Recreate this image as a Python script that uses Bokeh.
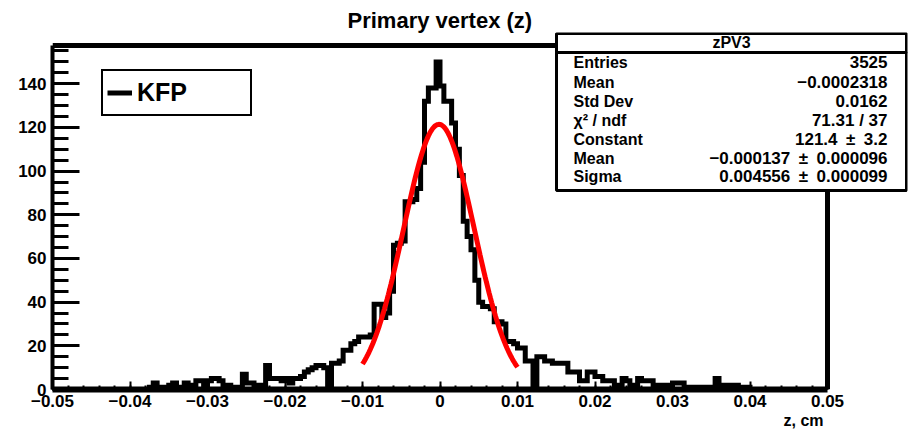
import numpy as np
from bokeh.plotting import figure
from bokeh.models import (Label, BoxAnnotation, Legend, LegendItem, FixedTicker,
                          CustomJSTickFormatter, Range1d, Title)
from bokeh.embed import file_html
from bokeh.resources import INLINE

# ---------------- data ----------------
TITLE = "Primary vertex (z)"
X_TITLE = "z, cm"
HIST_NAME = "zPV3"
LEGEND_LABEL = "KFP"
X_MIN, X_MAX, N_BINS = -0.05, 0.05, 200
Y_MAX = 157.5

counts = [
    0, 0, 0, 0, 0, 0, 0, 0, 0, 0, 0, 0, 0, 0, 0, 0, 0, 0, 0, 0,
    0, 0, 0, 0, 0, 1, 3, 1, 1, 1, 2, 3, 1, 1, 3, 2, 2, 4, 4, 1,
    4, 5, 5, 4, 2, 2, 1, 1, 1, 7, 3, 3, 1, 2, 1, 11, 5, 5, 5, 4,
    5, 3, 5, 5, 6, 8, 9, 10, 11, 11, 10, 0, 12, 12, 13, 18, 18, 21, 22, 24,
    24, 24, 25, 39, 39, 33, 35, 45, 66, 67, 68, 86, 86, 87, 92, 104, 132, 138, 138, 150,
    139, 132, 132, 122, 110, 98, 77, 70, 64, 50, 40, 38, 38, 37, 31, 31, 30, 22, 22, 21,
    19, 19, 13, 13, 2, 15, 15, 13, 13, 12, 12, 12, 12, 8, 8, 8, 4, 4, 8, 8,
    6, 6, 4, 4, 4, 2, 2, 5, 4, 2, 2, 5, 4, 4, 4, 2, 2, 1, 2, 1,
    3, 3, 3, 1, 1, 0, 1, 1, 1, 0, 1, 5, 2, 2, 2, 1, 2, 1, 1, 1,
    0, 0, 0, 0, 0, 0, 0, 0, 0, 0, 0, 0, 0, 0, 0, 0, 0, 0, 0, 0,
]

FIT_CONST, FIT_MEAN, FIT_SIGMA = 121.4, -0.000137, 0.004556
FIT_LO, FIT_HI = -0.01, 0.01

PM = "\u2002\u00b1\u2002"
stat_labels = ["Entries", "Mean", "Std Dev", "\u03c7\u00b2 / ndf", "Constant", "Mean", "Sigma"]
stat_values = ["3525", "\u22120.0002318", "0.0162", "71.31 / 37", "121.4" + PM + "3.2",
               "\u22120.000137" + PM + "0.000096", "0.004556" + PM + "0.000099"]

x_ticks = [-0.05, -0.04, -0.03, -0.02, -0.01, 0.0, 0.01, 0.02, 0.03, 0.04, 0.05]
x_minor = [round(-0.05 + 0.002 * k, 3) for k in range(51)]
y_ticks = [0, 20, 40, 60, 80, 100, 120, 140]
y_minor = list(range(0, 160, 5))

# ---------------- layout (canvas pixels) ----------------
FONT = "Liberation Sans"
AX_L, AX_R, AX_T, AX_B = 52, 827, 45, 389     # ROOT axis frame
FR_R, FR_T = 907, 32                           # Bokeh frame extends to hold the stats box
px_x = (AX_R - AX_L) / (X_MAX - X_MIN)
px_y = (AX_B - AX_T) / Y_MAX
x_end = X_MAX + (FR_R - AX_R) / px_x
y_end = Y_MAX + (AX_T - FR_T) / px_y

p = figure(width=913, height=432, x_range=Range1d(X_MIN, x_end), y_range=Range1d(0, y_end),
           min_border_left=AX_L, min_border_right=913 - FR_R, min_border_top=FR_T,
           min_border_bottom=432 - AX_B, toolbar_location=None, output_backend="svg")
p.xgrid.visible = False
p.ygrid.visible = False
p.outline_line_color = None
p.background_fill_color = "white"
p.border_fill_color = "white"

# title
p.title.text = TITLE
p.title.align = "left"
p.title.offset = 295
p.title.text_font = FONT
p.title.text_font_size = "22px"
p.title.text_font_style = "bold"
p.title.text_color = "black"
p.title.standoff = 0

# ROOT frame (top and right sides)
p.line(x=[X_MIN, X_MAX, X_MAX], y=[Y_MAX, Y_MAX, 0], line_color="black", line_width=5,
       line_join="miter")

edges = np.linspace(X_MIN, X_MAX, N_BINS + 1)
hist = p.step(x=edges, y=counts + [counts[-1]], mode="after", line_color="black",
              line_width=5, line_join="miter")

zf = np.linspace(FIT_LO, FIT_HI, 121)
yf = FIT_CONST * np.exp(-0.5 * ((zf - FIT_MEAN) / FIT_SIGMA) ** 2)
p.line(zf, yf, line_color="red", line_width=5)

# axes
xa = p.xaxis[0]
xa.bounds = (X_MIN, X_MAX)
xa.ticker = FixedTicker(ticks=x_ticks, minor_ticks=x_minor)
xa.formatter = CustomJSTickFormatter(code="""
    if (Math.abs(tick) < 1e-9) return "0";
    const s = Math.abs(tick).toFixed(2);
    return (tick < 0 ? "\u2212" : "") + s;
""")
xa.axis_line_width = 6
xa.major_tick_in = 8
xa.major_tick_out = 0
xa.minor_tick_in = 4
xa.minor_tick_out = 0
xa.major_tick_line_width = 2
xa.minor_tick_line_width = 2
xa.major_label_standoff = 5
xa.major_label_text_font = FONT
xa.major_label_text_font_size = "17px"
xa.major_label_text_font_style = "bold"
xa.major_label_text_color = "black"

ya = p.yaxis[0]
ya.bounds = (0, Y_MAX)
ya.ticker = FixedTicker(ticks=y_ticks, minor_ticks=y_minor)
ya.axis_line_width = 4
ya.major_tick_in = 27
ya.major_tick_out = 0
ya.minor_tick_in = 16
ya.minor_tick_out = 0
ya.major_tick_line_width = 3
ya.minor_tick_line_width = 3
ya.major_label_standoff = 6
ya.major_label_text_font = FONT
ya.major_label_text_font_size = "17px"
ya.major_label_text_font_style = "bold"
ya.major_label_text_color = "black"

# x-axis title, right aligned at the end of the axis
p.add_layout(Title(text=X_TITLE, align="right", offset=FR_R - 823, text_font=FONT,
                   text_font_size="16px", text_font_style="bold", text_color="black",
                   standoff=0), "below")


def sx(cx):
    return cx - AX_L


def sy(cy):
    return AX_B - cy


def lab(text, cx, cy, size="16px", align="left", style="bold"):
    p.add_layout(Label(x=sx(cx), y=sy(cy), x_units="screen", y_units="screen", text=text,
                       text_align=align, text_baseline="middle", text_font=FONT,
                       text_font_size=size, text_color="black", text_font_style=style))


# legend
legend = Legend(items=[LegendItem(label=LEGEND_LABEL, renderers=[hist])],
                location=(sx(101), sy(116)), border_line_color="black", border_line_width=2,
                border_line_alpha=1.0, background_fill_color="white",
                background_fill_alpha=1.0, padding=4, margin=0, spacing=0, glyph_width=25,
                glyph_height=35, label_height=35, label_width=109, label_standoff=5,
                label_text_font=FONT, label_text_font_size="25px",
                label_text_font_style="bold", label_text_color="black")
p.add_layout(legend)

# stats box
SB_L, SB_R, SB_T, SB_H, SB_B = 556, 906, 33, 52, 190
for top, bottom in [(SB_T, SB_H), (SB_H, SB_B)]:
    p.add_layout(BoxAnnotation(left=sx(SB_L), right=sx(SB_R), top=sy(top), bottom=sy(bottom),
                               left_units="screen", right_units="screen", top_units="screen",
                               bottom_units="screen", fill_color="white", fill_alpha=1.0,
                               line_color="black", line_alpha=1.0, line_width=3))
lab(HIST_NAME, (SB_L + SB_R) / 2, 42, align="center")
row_y = [61.5, 81.5, 100.5, 119.5, 139, 157.5, 176]
for name, val, cy in zip(stat_labels, stat_values, row_y):
    lab(name, 573, cy)
    lab(val, 887, cy, size="17px", align="right")

open("out.html", "w").write(file_html(p, INLINE))
